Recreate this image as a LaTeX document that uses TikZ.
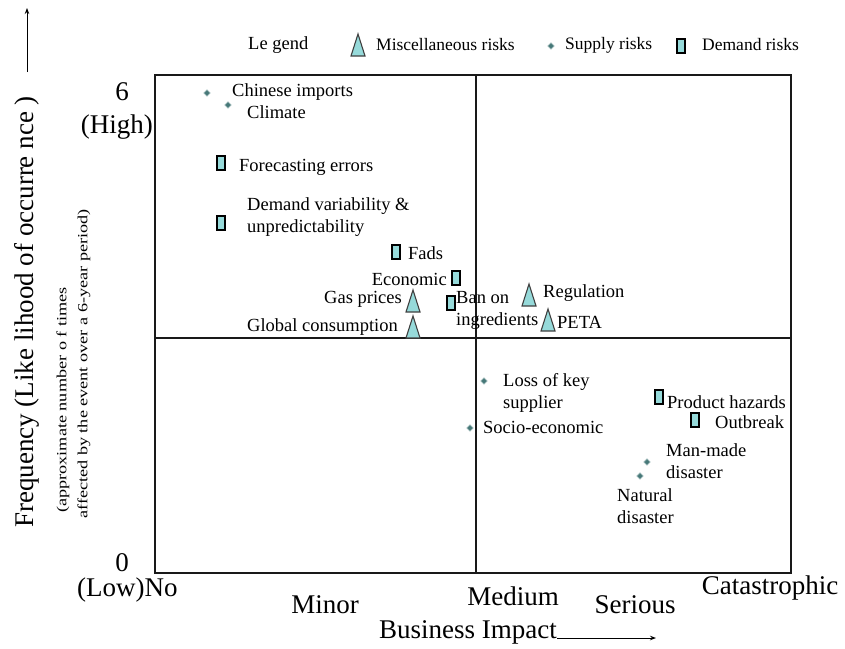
\documentclass[tikz,border=0pt]{standalone}
\usepackage{fontspec}
\setmainfont{Liberation Serif}
\usetikzlibrary{arrows.meta}
\definecolor{mk}{RGB}{150,218,218}
\definecolor{dotc}{RGB}{70,120,120}
\tikzset{
  frame/.style={line width=1.8pt, draw=black!90},
  lab/.style={font=\fontsize{18.5}{22}\selectfont, inner sep=0pt, anchor=west, align=left},
  leg/.style={font=\fontsize{17.5}{20}\selectfont, inner sep=0pt, anchor=west},
  ax/.style={font=\fontsize{27}{30}\selectfont, inner sep=0pt},
  sq/.style={rectangle, draw=black, line width=1.5pt, fill=mk, minimum width=8pt, minimum height=14pt, inner sep=0pt},
  dot/.style={diamond, fill=dotc, draw=dotc!60, line width=0.8pt, minimum width=6.5pt, minimum height=6.5pt, inner sep=0pt},
  tri/.pic={\draw[line width=1.1pt, draw=black!75, fill=mk] (-7,11) -- (0,-11) -- (7,11) -- cycle;},
  arr/.style={line width=1pt, -{Stealth[length=6pt,width=4.5pt]}}
}
\usetikzlibrary{shapes.geometric}
\begin{document}
\begin{tikzpicture}[x=1pt,y=-1pt]
\useasboundingbox (0,0) rectangle (845,648);
% frame and quadrants
\draw[frame] (155,75) rectangle (791,573);
\draw[frame] (476,75) -- (476,573);
\draw[frame] (155,338) -- (791,338);
% legend
\node[lab] (lg) at (248,45) {Le gend};
\pic (lgt) at (358,45) {tri};
\node[leg] (lgm) at (376,45) {Miscellaneous risks};
\node[dot] (lgd) at (551,46) {};
\node[leg] (lgs) at (565,45) {Supply risks};
\node[sq] (lgq) at (681,46) {};
\node[leg] (lgdm) at (702,45) {Demand risks};
% y axis
\node[ax, rotate=90] (freq) at (27,312) {Frequency (Like lihood of occurre nce )};
\coordinate (ya) at (27,72);
\coordinate (yb) at (27,8);
\draw[arr] (ya) -- (yb);
\node[rotate=90, inner sep=0pt] (sub1) at (63,400) {\scalebox{1.3}[1]{\fontsize{14}{16}\selectfont (approximate number o f times}};
\node[rotate=90, inner sep=0pt] (sub2) at (84,364) {\scalebox{1.3}[1]{\fontsize{14}{16}\selectfont affected by the event over a 6-year period)}};
\node[ax] (six) at (122,92) {6};
\node[ax, anchor=east] (high) at (153,127) {(High)};
\node[ax] (zero) at (122,563) {0};
% x axis
\node[ax, anchor=west] (low) at (77,590) {(Low)No};
\node[ax] (minor) at (325,605) {Minor};
\node[ax] (medium) at (513,596) {Medium};
\node[ax] (serious) at (635,605) {Serious};
\node[ax] (cat) at (770,588) {Catastrophic};
\node[ax, anchor=west] (bi) at (379,632) {Business Impact};
\coordinate (biend) at (656,638);
\draw[arr] (bi.east |- biend) -- (biend);
% supply risks
\node[dot] (p1) at (207,93) {};
\node[lab] (l1) at (232,92) {Chinese imports};
\node[dot] (p2) at (228,105) {};
\node[lab] (l2) at (247,112) {Climate};
\node[dot] (p3) at (484,381) {};
\node[lab] (l3) at (503,393) {Loss of key\\supplier};
\node[dot] (p4) at (470,428) {};
\node[lab] (l4) at (483,427) {Socio-economic};
\node[dot] (p5) at (647,462) {};
\node[lab] (l5) at (666,461) {Man-made\\disaster};
\node[dot] (p6) at (640,476) {};
\node[lab] (l6) at (617,506) {Natural\\disaster};
% demand risks
\node[sq] (d1) at (221,163) {};
\node[lab] (m1) at (239,167) {Forecasting errors};
\node[sq] (d2) at (221,223) {};
\node[lab] (m2) at (247,217) {Demand variability \&\\unpredictability};
\node[sq] (d3) at (396,252) {};
\node[lab] (m3) at (408,253) {Fads};
\node[sq] (d4) at (456,278) {};
\node[lab, anchor=east] (m4) at (447,279) {Economic};
\node[sq] (d5) at (451,303) {};
\node[lab] (m5) at (456,310) {Ban on\\ingredients};
\node[sq] (d6) at (659,397) {};
\node[lab] (m6) at (667,402) {Product hazards};
\node[sq] (d7) at (695,420) {};
\node[lab] (m7) at (715,422) {Outbreak};
% miscellaneous risks
\pic (t1) at (413,301) {tri};
\node[lab, anchor=east] (n1) at (402,299) {Gas prices};
\pic (t2) at (413,327) {tri};
\node[lab, anchor=east] (n2) at (398,327) {Global consumption};
\pic (t3) at (529,295) {tri};
\node[lab] (n3) at (543,293) {Regulation};
\pic (t4) at (548,320) {tri};
\node[lab] (n4) at (557,322) {PETA};
\end{tikzpicture}
\end{document}
